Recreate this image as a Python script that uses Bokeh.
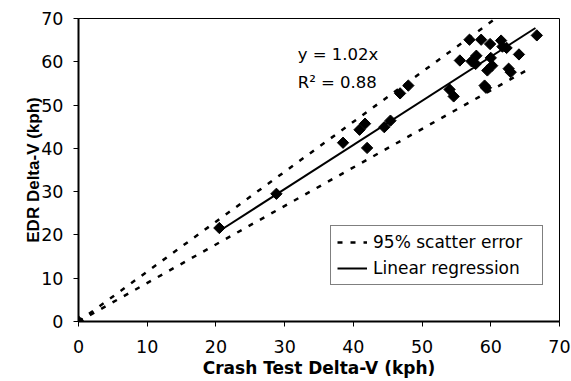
from bokeh.plotting import figure
from bokeh.models import Range1d, Label, Legend, LegendItem, FixedTicker
from bokeh.embed import file_html
from bokeh.resources import INLINE
import numpy as np

# ---- data ----
crash_dv = [0, 20.5, 28.8, 38.5, 40.9, 41.7, 42.0, 44.5, 45.4, 46.8, 48.0,
            54.0, 54.6, 55.5, 56.9, 58.6, 57.2, 57.9, 57.8, 59.9, 60.0, 60.2,
            59.5, 59.1, 59.3, 61.5, 61.7, 62.3, 64.1, 66.7, 62.6, 62.9]
edr_dv = [0, 21.6, 29.5, 41.3, 44.3, 45.7, 40.1, 44.9, 46.4, 52.7, 54.5,
          53.6, 52.0, 60.3, 65.1, 65.1, 60.1, 61.4, 59.5, 64.1, 60.9, 59.1,
          58.0, 54.5, 54.0, 64.9, 63.5, 63.2, 61.7, 66.1, 58.4, 57.6]

reg_x = [20.5, 66.5]
reg_y = [20.9, 67.8]
upper_x = [0, 60.7]
upper_y = [0, 70.0]
lower_x = [0, 65.4]
lower_y = [0, 58.2]

ticks = [0, 10, 20, 30, 40, 50, 60, 70]
eq_text = "y = 1.02x"
r2_text = "R\u00b2 = 0.88"

FONT = "DejaVu Sans"

p = figure(width=571, height=381, output_backend="svg", toolbar_location=None,
           x_range=Range1d(0, 70), y_range=Range1d(0, 70),
           min_border_left=78, min_border_right=12, min_border_top=18,
           min_border_bottom=60)
p.background_fill_color = "white"
p.border_fill_color = "white"
p.xgrid.visible = False
p.ygrid.visible = False
p.outline_line_color = "black"
p.outline_line_width = 1

for ax in (p.xaxis[0], p.yaxis[0]):
    ax.ticker = FixedTicker(ticks=ticks)
    ax.axis_line_width = 2
    ax.axis_line_color = "black"
    ax.major_tick_line_color = "black"
    ax.major_tick_line_width = 1
    ax.major_tick_out = 5
    ax.major_tick_in = 0
    ax.minor_tick_out = 0
    ax.minor_tick_in = 0
    ax.major_label_text_font = FONT
    ax.major_label_text_font_size = "17.5px"
    ax.major_label_text_color = "black"
    ax.axis_label_text_color = "black"
    ax.axis_label_text_font_style = "bold"

p.xaxis[0].axis_label = "Crash Test Delta-V (kph)"
p.xaxis[0].axis_label_text_font = FONT
p.xaxis[0].axis_label_text_font_size = "17px"
p.xaxis[0].major_label_standoff = 13
p.xaxis[0].axis_label_standoff = 2

p.yaxis[0].axis_label = "EDR Delta-V (kph)"
p.yaxis[0].axis_label_text_font = "Liberation Sans"
p.yaxis[0].axis_label_text_font_size = "17px"
p.yaxis[0].major_label_standoff = 10
p.yaxis[0].axis_label_standoff = -5

up = p.line(upper_x, upper_y, line_color="black", line_width=2.5, line_dash="5 8")
lo = p.line(lower_x, lower_y, line_color="black", line_width=2.5, line_dash="5 8")
rg = p.line(reg_x, reg_y, line_color="black", line_width=2)
p.scatter(crash_dv, edr_dv, marker="square", size=8, angle=np.pi / 4,
          fill_color="black", line_color="black")

p.add_layout(Label(x=31.9, y=61.7, text=eq_text, text_font=FONT,
                   text_font_size="16.5px", text_baseline="middle", text_color="black"))
p.add_layout(Label(x=31.9, y=55.2, text=r2_text, text_font=FONT,
                   text_font_size="16.5px", text_baseline="middle", text_color="black"))

legend = Legend(items=[LegendItem(label="95% scatter error", renderers=[up]),
                       LegendItem(label="Linear regression", renderers=[rg])],
                location=(252, 36))
legend.border_line_color = "black"
legend.border_line_width = 1
legend.background_fill_alpha = 1
legend.padding = 6
legend.spacing = 6
legend.margin = 0
legend.glyph_width = 30
legend.glyph_height = 20
legend.label_height = 20
legend.label_width = 163
legend.label_standoff = 6
legend.label_text_font = FONT
legend.label_text_font_size = "17px"
legend.label_text_color = "black"
p.add_layout(legend)

open("out.html", "w").write(file_html(p, INLINE))
